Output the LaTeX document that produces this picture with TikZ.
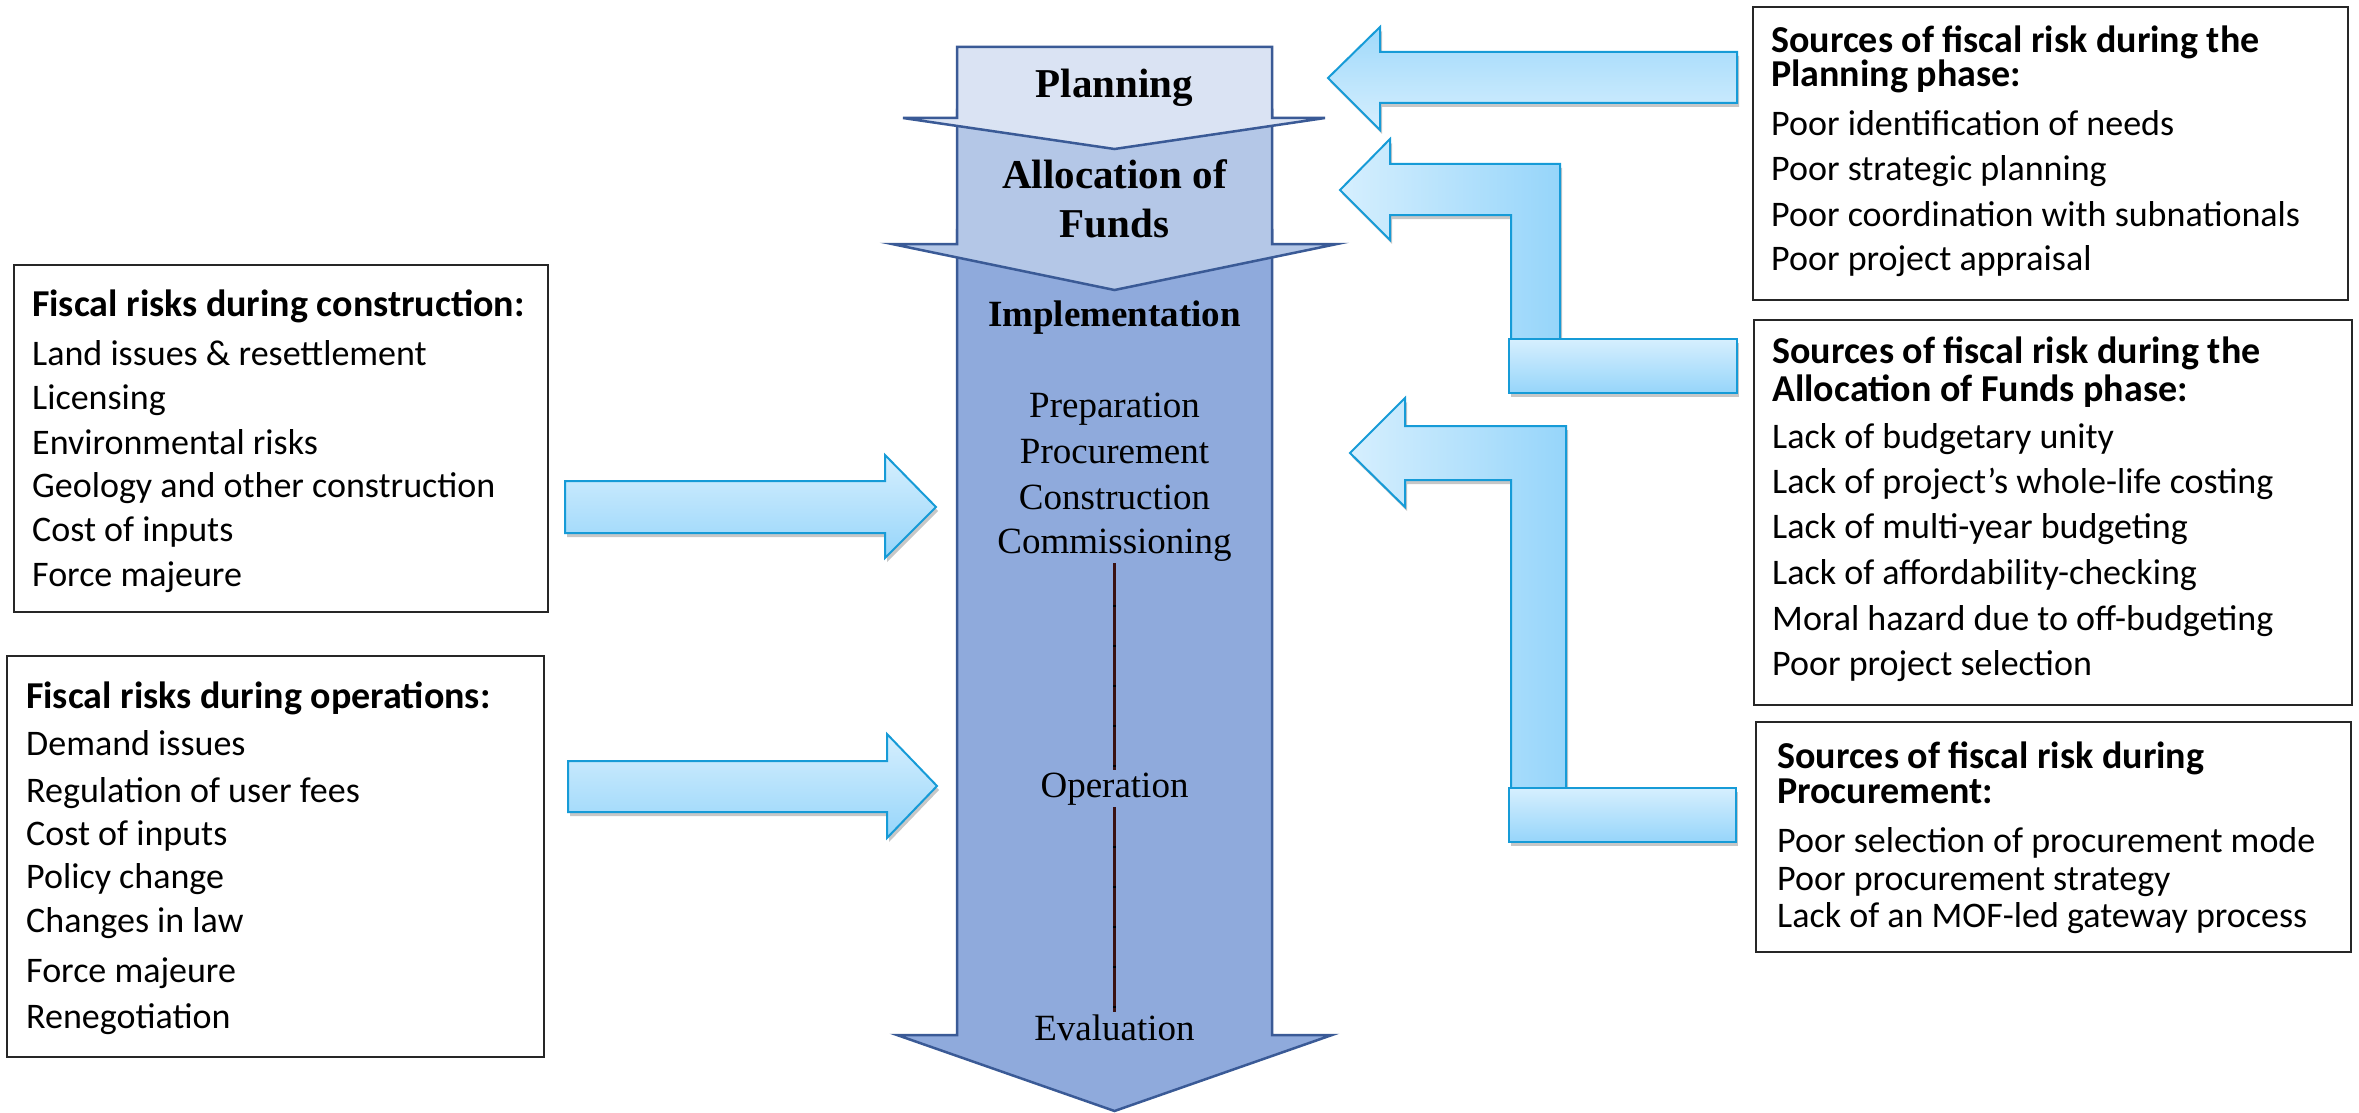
\documentclass[tikz,border=0pt]{standalone}
\usepackage{fontspec}
\setmainfont{Liberation Serif}
\newfontfamily\calfont{Carlito}
\usetikzlibrary{shadows}
\definecolor{planC}{HTML}{DAE3F3}
\definecolor{allocC}{HTML}{B4C7E7}
\definecolor{implC}{HTML}{8FAADC}
\definecolor{phaseB}{HTML}{3A5A96}
\definecolor{arrB}{HTML}{169BD7}
\definecolor{arrL}{HTML}{D6EFFE}
\definecolor{arrD}{HTML}{96D5FA}
\definecolor{lineC}{HTML}{3A1212}
\begin{document}
\begin{tikzpicture}[x=1pt,y=-1pt,
  phase/.style={draw=phaseB, line width=2.5pt, line join=miter},
  barrow/.style={draw=arrB, line width=2pt, line join=miter,
    drop shadow={shadow xshift=2pt, shadow yshift=-4pt, opacity=0.22, fill=black}},
  vgrad/.style={top color=arrL, bottom color=arrD},
  vgradr/.style={top color=arrD!85!arrL, bottom color=arrL},
  hgrad/.style={left color=arrL, right color=arrD},
  riskbox/.style={draw=black!85, line width=2.5pt, fill=white, inner sep=0pt, outer sep=0pt, anchor=north west},
  ttl/.style={font=\calfont\bfseries\fontsize{38}{42}\selectfont, anchor=base west, inner sep=0pt},
  itm/.style={font=\calfont\fontsize{36}{42}\selectfont, anchor=base west, inner sep=0pt},
  phbig/.style={font=\bfseries\fontsize{41}{45}\selectfont, anchor=base, inner sep=0pt},
  phmid/.style={font=\bfseries\fontsize{37}{40}\selectfont, anchor=base, inner sep=0pt},
  stage/.style={font=\fontsize{37}{40}\selectfont, anchor=base, inner sep=2pt},
  vline/.style={draw=lineC, line width=2.6pt}
]
\useasboundingbox[fill=white] (0,0) rectangle (2359,1113);

% ---- central phase arrow ----
\path[phase, fill=implC] (957,230) -- (1272,230) -- (1272,1035) -- (1332,1035) -- (1114.5,1111) -- (897,1035) -- (957,1035) -- cycle;
\path[phase, fill=allocC] (957,110) -- (1272,110) -- (1272,244) -- (1337,244) -- (1114.5,290) -- (892,244) -- (957,244) -- cycle;
\path[phase, fill=planC] (957,47) -- (1272,47) -- (1272,118) -- (1325,118) -- (1114.5,149) -- (903,118) -- (957,118) -- cycle;

\node[phbig] (plan) at (1114.5,98) {Planning};
\node[phbig] (alloc1) at (1114.5,188) {Allocation of};
\node[phbig] (alloc2) at (1114.5,237) {Funds};
\node[phmid] (impl) at (1114.5,326) {Implementation};
\node[stage] (prep) at (1114.5,417) {Preparation};
\node[stage] (proc) at (1114.5,463) {Procurement};
\node[stage] (cons) at (1114.5,509) {Construction};
\node[stage] (comm) at (1114.5,553) {Commissioning};
\node[stage] (oper) at (1114.5,797) {Operation};
\node[stage] (eval) at (1114.5,1040) {Evaluation};

\draw[vline] (comm.south) -- (oper.north);
\draw[vline] (oper.south) -- (eval.north);
\draw[black, line width=3.5pt, dash pattern=on 2pt off 38pt] (1114.5,605) -- (oper.north);
\draw[black, line width=3.5pt, dash pattern=on 2pt off 38pt] (1114.5,846) -- (eval.north);

% ---- light blue block arrows ----
% planning sources -> planning
\path[barrow, vgradr] (1328,78) -- (1380,27) -- (1380,52) -- (1737,52) -- (1737,103) -- (1380,103) -- (1380,130) -- cycle;
% allocation sources -> allocation (elbow)
\path[barrow, hgrad] (1340,190) -- (1390,139) -- (1390,164) -- (1560,164) -- (1560,339) -- (1511,339) -- (1511,215) -- (1390,215) -- (1390,240) -- cycle;
\path[barrow, vgrad] (1509,339) rectangle (1737,393);
% procurement sources -> procurement (elbow)
\path[barrow, hgrad] (1350,453) -- (1405,398) -- (1405,426) -- (1566,426) -- (1566,788) -- (1511,788) -- (1511,480) -- (1405,480) -- (1405,507) -- cycle;
\path[barrow, vgrad] (1509,788) rectangle (1736,842);
% construction risks -> implementation
\path[barrow, vgrad] (565,481) -- (885,481) -- (885,455) -- (936,507) -- (885,558) -- (885,533) -- (565,533) -- cycle;
% operations risks -> operation
\path[barrow, vgrad] (568,761) -- (887,761) -- (887,734) -- (937,786) -- (887,838) -- (887,812) -- (568,812) -- cycle;

% ---- risk boxes ----
\node[riskbox, minimum width=595pt, minimum height=293pt] (boxplan) at (1753,7) {};
\node[riskbox, minimum width=598pt, minimum height=385pt] (boxalloc) at (1754,320) {};
\node[riskbox, minimum width=595pt, minimum height=230pt] (boxproc) at (1756,722) {};
\node[riskbox, minimum width=534pt, minimum height=347pt] (boxcons) at (14,265) {};
\node[riskbox, minimum width=537pt, minimum height=401pt] (boxops) at (7,656) {};

% planning sources text
\node[ttl] (bpt1) at (1771,53) {Sources of fiscal risk during the};
\node[ttl] (bpt2) at (1771,87) {Planning phase:};
\foreach \t/\y [count=\i] in {Poor identification of needs/136, Poor strategic planning/181, Poor coordination with subnationals/226, Poor project appraisal/270}
  \node[itm] (bpi\i) at (1771,\y) {\t};

% allocation sources text
\node[ttl] (bat1) at (1772,363) {Sources of fiscal risk during the};
\node[ttl] (bat2) at (1772,401) {Allocation of Funds phase:};
\foreach \t/\y [count=\i] in {Lack of budgetary unity/448, Lack of project’s whole-life costing/493, Lack of multi-year budgeting/538, Lack of affordability-checking/584, Moral hazard due to off-budgeting/630, Poor project selection/675}
  \node[itm] (bai\i) at (1772,\y) {\t};

% procurement sources text
\node[ttl] (brt1) at (1777,768) {Sources of fiscal risk during};
\node[ttl] (brt2) at (1777,803) {Procurement:};
\foreach \t/\y [count=\i] in {Poor selection of procurement mode/852, Poor procurement strategy/890, Lack of an MOF-led gateway process/927}
  \node[itm] (bri\i) at (1777,\y) {\t};

% construction risks text
\node[ttl] (bct1) at (32,316) {Fiscal risks during construction:};
\foreach \t/\y [count=\i] in {Land issues \& resettlement/365, Licensing/409, Environmental risks/454, Geology and other construction/497, Cost of inputs/541, Force majeure/586}
  \node[itm] (bci\i) at (32,\y) {\t};

% operations risks text
\node[ttl] (bot1) at (26,708) {Fiscal risks during operations:};
\foreach \t/\y [count=\i] in {Demand issues/755, Regulation of user fees/802, Cost of inputs/845, Policy change/888, Changes in law/932, Force majeure/982, Renegotiation/1028}
  \node[itm] (boi\i) at (26,\y) {\t};
\end{tikzpicture}
\end{document}
